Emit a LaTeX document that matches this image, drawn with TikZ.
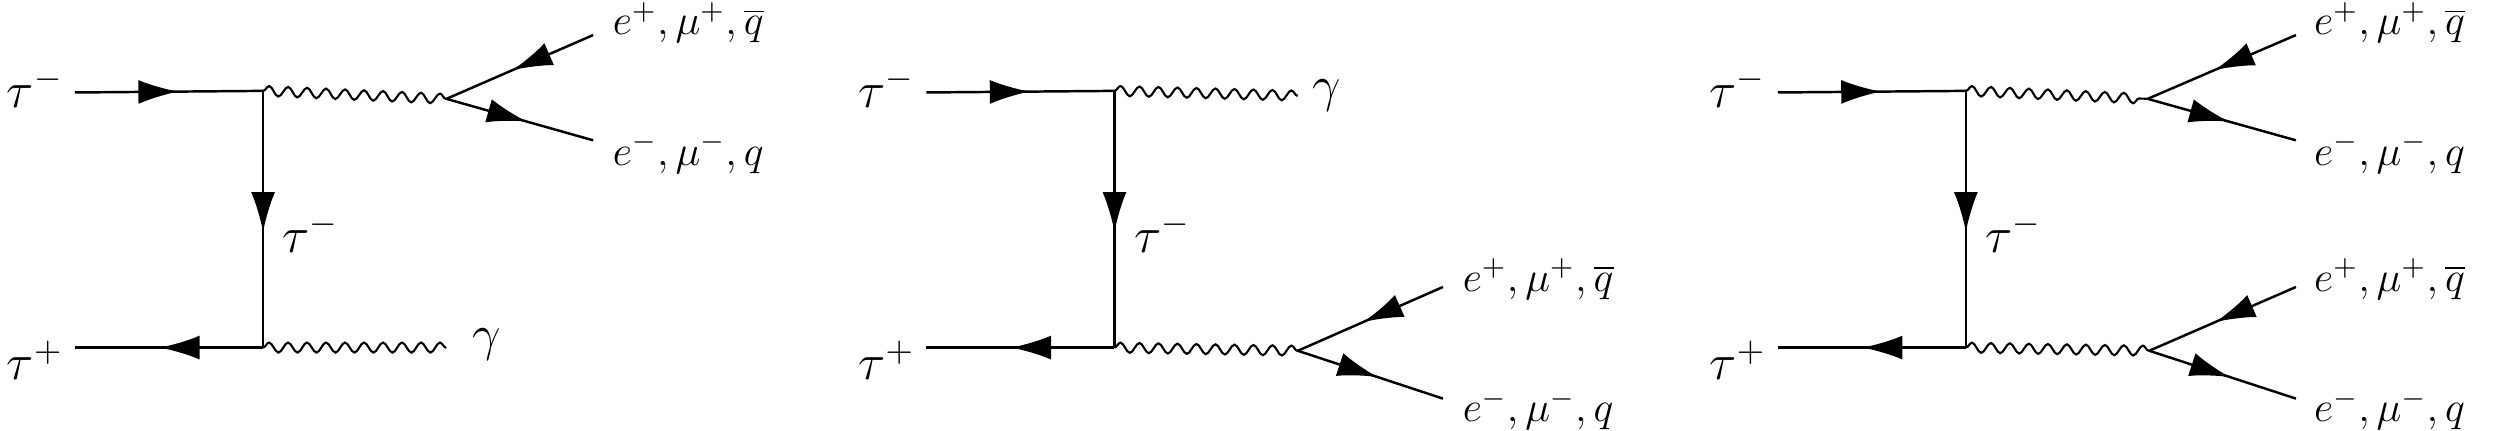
\documentclass[tikz,border=0pt]{standalone}
\usetikzlibrary{decorations.markings,decorations.pathmorphing,arrows.meta}
\begin{document}
\begin{tikzpicture}[x=0.01594cm,y=-0.01594cm,
  fer/.style={line width=0.7pt,postaction={decorate},decoration={markings,mark=at position #1 with {\arrow{Latex[length=0.4cm,width=0.24cm]}}}},
  fer/.default=0.55,
  pho/.style={line width=0.6pt,decorate,decoration={snake,amplitude=0.05cm,segment length=0.19cm}},
  lab/.style={font=\fontsize{12}{14}\selectfont,inner sep=0pt},
  big/.style={font=\fontsize{14}{16}\selectfont,inner sep=0pt}]
\useasboundingbox (0,0) rectangle (1568,270);
% ---------- diagram 1
\coordinate (a1) at (47,58); \coordinate (v1) at (165,57); \coordinate (w1) at (165,218);
\coordinate (b1) at (47,218); \coordinate (p1) at (280,62); \coordinate (g1) at (280,218);
\coordinate (u1) at (372,22); \coordinate (d1) at (372,88);
\node[big] at (22,55) {$\tau^-$};
\node[big] at (22,226) {$\tau^+$};
\node[big] at (195,146) {$\tau^-$};
\node[lab,anchor=west] at (384,14) {$e^+,\mu^+,\overline{q}$};
\node[lab,anchor=west] at (384,96) {$e^-,\mu^-,q$};
\node[big] at (305,216) {$\gamma$};
\draw[fer] (a1) -- (v1);
\draw[fer] (v1) -- (w1);
\draw[fer] (w1) -- (b1);
\draw[pho] (v1) -- (p1);
\draw[pho] (w1) -- (g1);
\draw[fer] (u1) -- (p1);
\draw[fer] (p1) -- (d1);
% ---------- diagram 2
\coordinate (a2) at (581,58); \coordinate (v2) at (699,57); \coordinate (w2) at (699,218);
\coordinate (b2) at (581,218); \coordinate (g2) at (814,60); \coordinate (p2) at (814,220);
\coordinate (u2) at (905,180); \coordinate (d2) at (905,250);
\node[big] at (556,55) {$\tau^-$};
\node[big] at (556,226) {$\tau^+$};
\node[big] at (729,146) {$\tau^-$};
\node[big] at (832,60) {$\gamma$};
\node[lab,anchor=west] at (917,175) {$e^+,\mu^+,\overline{q}$};
\node[lab,anchor=west] at (917,257) {$e^-,\mu^-,q$};
\draw[fer] (a2) -- (v2);
\draw[fer] (v2) -- (w2);
\draw[fer] (w2) -- (b2);
\draw[pho] (v2) -- (g2);
\draw[pho] (w2) -- (p2);
\draw[fer] (u2) -- (p2);
\draw[fer] (p2) -- (d2);
% ---------- diagram 3
\coordinate (a3) at (1115,58); \coordinate (v3) at (1233,57); \coordinate (w3) at (1233,218);
\coordinate (b3) at (1115,218); \coordinate (p3) at (1347,62); \coordinate (q3) at (1348,220);
\coordinate (u3) at (1440,22); \coordinate (d3) at (1440,88);
\coordinate (u4) at (1440,180); \coordinate (d4) at (1440,250);
\node[big] at (1090,55) {$\tau^-$};
\node[big] at (1090,226) {$\tau^+$};
\node[big] at (1263,146) {$\tau^-$};
\node[lab,anchor=west] at (1451,14) {$e^+,\mu^+,\overline{q}$};
\node[lab,anchor=west] at (1451,96) {$e^-,\mu^-,q$};
\node[lab,anchor=west] at (1451,175) {$e^+,\mu^+,\overline{q}$};
\node[lab,anchor=west] at (1451,257) {$e^-,\mu^-,q$};
\draw[fer] (a3) -- (v3);
\draw[fer] (v3) -- (w3);
\draw[fer] (w3) -- (b3);
\draw[pho] (v3) -- (p3);
\draw[pho] (w3) -- (q3);
\draw[fer] (u3) -- (p3);
\draw[fer] (p3) -- (d3);
\draw[fer] (u4) -- (q3);
\draw[fer] (q3) -- (d4);
\end{tikzpicture}
\end{document}
